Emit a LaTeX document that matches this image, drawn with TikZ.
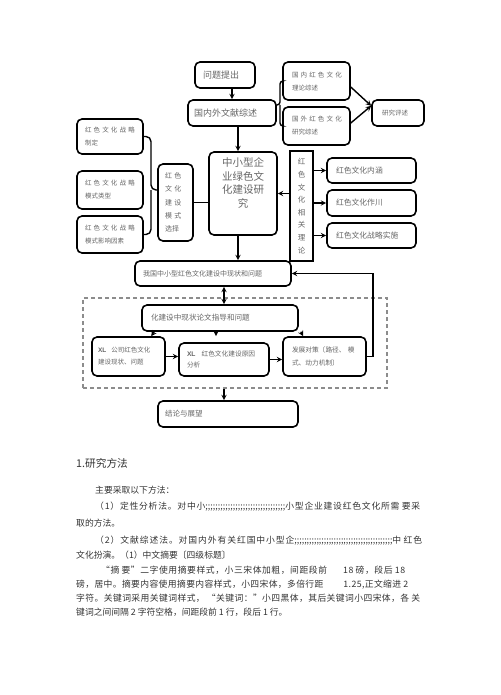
\documentclass[tikz,border=0pt]{standalone}
\usepackage{fontspec}
\setmainfont{Noto Sans CJK SC}
\newfontfamily\xlfont{Liberation Sans}
\newlength{\du}
\setlength{\du}{1\unitlength}
\newcommand{\fenhao}[1]{\hbox to #1\du{\xleaders\hbox{;}\hfill}}
\newcommand{\zhline}[2]{{\XeTeXinterchartokenstate=1 \makebox[#1\du][s]{#2}}}
\XeTeXinterchartoks 0 0 = {\hskip 0pt plus 2pt}
\XeTeXinterchartoks 0 1 = {\hskip 0pt plus 2pt}
\XeTeXinterchartoks 0 2 = {\hskip 0pt plus 2pt}
\XeTeXinterchartoks 0 3 = {\hskip 0pt plus 2pt}
\XeTeXinterchartoks 1 0 = {\hskip 0pt plus 2pt}
\XeTeXinterchartoks 1 1 = {\hskip 0pt plus 2pt}
\XeTeXinterchartoks 1 2 = {\hskip 0pt plus 2pt}
\XeTeXinterchartoks 1 3 = {\hskip 0pt plus 2pt}
\XeTeXinterchartoks 2 0 = {\hskip 0pt plus 2pt}
\XeTeXinterchartoks 2 1 = {\hskip 0pt plus 2pt}
\XeTeXinterchartoks 3 0 = {\hskip 0pt plus 2pt}
\XeTeXinterchartoks 3 1 = {\hskip 0pt plus 2pt}
\XeTeXinterchartoks 3 2 = {\hskip 0pt plus 2pt}
\definecolor{boxtext}{rgb}{0.400000, 0.400000, 0.400000}
\definecolor{bodytext}{rgb}{0.200000, 0.200000, 0.200000}
\definecolor{dashcolor}{rgb}{0.550000, 0.550000, 0.550000}

\begin{document}
\begin{tikzpicture}[
  box/.style={draw=black, line width=1.6\du, rounded corners=5\du, align=left, inner ysep=0pt, text=boxtext},
  kuangbox/.style={draw=dashcolor, line width=1.4\du, dash pattern=on 4\du off 3\du, inner sep=0pt},
  line/.style={line width=1.4\du},
  arr/.style={line width=1.4\du, -stealth},
  zw/.style={anchor=west, inner sep=0pt, text=bodytext, font=\fontsize{8.8}{10}\selectfont}
]
\pgftransformxscale{1.000000}
\pgftransformyscale{-1.000000}
\useasboundingbox (0\du,0\du) rectangle (500\du,695\du);
% dashed frame
\node[kuangbox, minimum width=304\du, minimum height=90\du] (kuang) at (235\du,343\du) {};
% top
\node[box, text width=44\du, minimum height=26\du, inner xsep=8\du, font=\fontsize{9}{11}\selectfont] (wenti) at (225\du,75\du) {问题提出};
\node[box, text width=76\du, minimum height=26\du, inner xsep=6\du, font=\fontsize{9}{11}\selectfont] (wenxian) at (232\du,113\du) {国内外文献综述};
\node[box, text width=49\du, minimum height=38\du, inner xsep=9\du, font=\fontsize{6.5}{13}\selectfont] (guonei) at (316.5\du,81\du) {\makebox[49\du][s]{国 内 红 色 文 化}\\理论综述};
\node[box, text width=49\du, minimum height=38\du, inner xsep=9\du, font=\fontsize{6.5}{13}\selectfont] (guowai) at (316.5\du,126\du) {\makebox[49\du][s]{国 外 红 色 文 化}\\研究综述};
\node[box, text width=32\du, minimum height=26\du, inner xsep=10\du, font=\fontsize{6.5}{13}\selectfont] (pingshu) at (398\du,113\du) {研究评述};
% left
\node[box, text width=50\du, minimum height=35\du, inner xsep=8\du, font=\fontsize{6.5}{13}\selectfont] (zhiding) at (110\du,136.5\du) {\makebox[48\du][s]{红 色 文 化 战 略}\\制定};
\node[box, text width=50\du, minimum height=38\du, inner xsep=8\du, font=\fontsize{6.5}{13}\selectfont] (leixing) at (110\du,190\du) {\makebox[48\du][s]{红 色 文 化 战 略}\\模式类型};
\node[box, text width=50\du, minimum height=37\du, inner xsep=8\du, font=\fontsize{6.5}{13}\selectfont] (yinsu) at (110\du,234.5\du) {\makebox[48\du][s]{红 色 文 化 战 略}\\模式影响因素};
\node[box, text width=21\du, minimum height=77\du, inner xsep=7\du, font=\fontsize{7}{13.3}\selectfont] (xuanze) at (175.5\du,202.5\du) {\makebox[21\du][s]{红 色}\\\makebox[21\du][s]{文 化}\\\makebox[21\du][s]{建 设}\\\makebox[21\du][s]{模 式}\\选择};
% centre
\node[box, minimum width=68\du, minimum height=83\du, inner sep=0pt, font=\fontsize{10.5}{13.5}\selectfont] (zhong) at (243\du,193.5\du) {\parbox[c][71\du][t]{48\du}{\centering 中小型企\\业绿色文\\化建设研\\究}};
\node[box, sharp corners, text width=15\du, minimum height=110\du, inner xsep=4\du, align=center, font=\fontsize{7.5}{12.6}\selectfont] (lilun) at (301.5\du,206\du) {红\\色\\文\\化\\相\\关\\理\\论};
% right
\node[box, text width=71\du, minimum height=25\du, inner xsep=9\du, font=\fontsize{7.8}{10}\selectfont] (neihan) at (371.5\du,170.5\du) {红色文化内涵};
\node[box, text width=71\du, minimum height=26\du, inner xsep=9\du, font=\fontsize{7.8}{10}\selectfont] (zuoyong) at (371.5\du,203\du) {红色文化作川};
\node[box, text width=71\du, minimum height=25\du, inner xsep=9\du, font=\fontsize{7.8}{10}\selectfont] (shishi) at (371.5\du,235.5\du) {红色文化战略实施};
% lower part
\node[box, text width=140\du, minimum height=25\du, inner xsep=8\du, font=\fontsize{7}{10}\selectfont] (woguo) at (213\du,273.5\du) {我国中小型红色文化建设中现状和问题};
\node[box, text width=138\du, minimum height=26\du, inner xsep=9\du, font=\fontsize{7.6}{10}\selectfont] (hua) at (220\du,318\du) {化建设中现状论文指导和问题};
\node[box, text width=61\du, minimum height=39\du, inner xsep=6\du, font=\fontsize{6.5}{12}\selectfont] (xl1) at (128.5\du,356.5\du) {{\xlfont\bfseries XL}\hspace{5\du}公司红色文化\\建设现状、问题};
\node[box, text width=74\du, minimum height=33\du, inner xsep=8\du, font=\fontsize{6.7}{11}\selectfont] (xl2) at (224\du,359.5\du) {{\xlfont\bfseries XL}\hspace{6\du}红色文化建设原因\\分析};
\node[box, text width=65\du, minimum height=39\du, inner xsep=9\du, font=\fontsize{6.7}{13}\selectfont] (fazhan) at (324.5\du,356.5\du) {\makebox[65\du][s]{发展对策〔路径、 模}\\式、动力机制〕};
\node[box, text width=126\du, minimum height=26\du, inner xsep=7\du, font=\fontsize{7.5}{10}\selectfont] (jielun) at (228\du,414\du) {结论与展望};
% connectors
\coordinate (zuokuo) at (151\du,190\du);
\coordinate (youkuo) at (280\du,105\du);
\coordinate (zx) at ([xshift=-5\du]zhong.north);
\coordinate (zx2) at ([xshift=-5\du]zhong.south);
\coordinate (sx) at ([xshift=4\du]hua.north);
\coordinate (mx) at ([xshift=-8\du]xl2.north);
\coordinate (jx) at ([xshift=-4\du]jielun.north);
\draw[arr] (wenti.south -| wenxian.north) -- (wenxian.north);
\draw[arr] (wenxian.south -| zx) -- (zx);
\draw[line, rounded corners=3\du] (guonei.west) -| (youkuo) -- (youkuo -| wenxian.east);
\draw[line, rounded corners=3\du] (guowai.west) -| (youkuo);
\draw[arr] (guonei.-10) -- (pingshu.165);
\draw[arr] (guowai.5) -- (pingshu.165);
\draw[line, rounded corners=5\du] (zhiding.east) -| (zuokuo) -- (zuokuo -| xuanze.west);
\draw[line, rounded corners=5\du] (yinsu.east) -| (zuokuo);
\draw[line] (xuanze.east) -- (xuanze.east -| zhong.west);
\draw[arr] (zhong.east -| lilun.west) -- (zhong.east);
\draw[arr] (lilun.east |- neihan.west) -- (neihan.west);
\draw[arr] (lilun.east |- zuoyong.west) -- (zuoyong.west);
\draw[arr] (lilun.east |- shishi.west) -- (shishi.west);
\draw[arr] (zx2) -- (zx2 |- woguo.north);
\draw[line, stealth-stealth] (sx |- woguo.south) -- (sx);
\draw[arr] ([xshift=13\du]hua.south west) -- ([xshift=60\du]xl1.north west);
\draw[arr, shorten >=6\du] (mx |- hua.south) -- (mx);
\draw[arr] ([xshift=2\du]hua.south east) -- ([xshift=21\du]fazhan.north west);
\draw[arr] (xl1.east) -- (xl1.east -| xl2.west);
\draw[arr] (xl2.east) -- (xl2.east -| fazhan.west);
\draw[arr] (fazhan.east) -- ++(6\du,0) |- (woguo.east);
\draw[arr] (jx |- kuang.south) -- (jx);
% text
\node[zw, font=\fontsize{10.7}{12}\selectfont] (zw0) at (76\du,463\du) {1.研究方法};
\node[zw] (zw1) at (95\du,490\du) {主要采取以下方法：};
\node[zw] (zw2) at (95\du,507\du) {\zhline{325}{（1）定性分析法。对中小\fenhao{80}小型企业建设红色文化所需 要采}};
\node[zw] (zw3) at (76\du,523\du) {取的方法。};
\node[zw] (zw4) at (95\du,541\du) {\zhline{327}{（2）文献综述法。对国内外有关红国中小型企\fenhao{98}中 红色}};
\node[zw] (zw5) at (76\du,555\du) {文化扮演。（1）中文摘要〔四级标题〕};
\node[zw] (zw6) at (101\du,570\du) {\zhline{304}{“摘 要”二字使用摘要样式，小三宋体加粗，间距段前\hspace{16\du}18 磅，段后 18}};
\node[zw] (zw7) at (76\du,585\du) {\zhline{332}{磅，居中。摘要内容使用摘要内容样式，小四宋体，多倍行距\hspace{20\du}1.25,正文缩进 2}};
\node[zw] (zw8) at (76\du,598\du) {\zhline{344}{字符。关键词采用关键词样式， “关键词：”小四黑体，其后关键词小四宋体，各 关}};
\node[zw] (zw9) at (76\du,612\du) {键词之间间隔 2 字符空格，间距段前 1 行，段后 1 行。};
\end{tikzpicture}
\end{document}
